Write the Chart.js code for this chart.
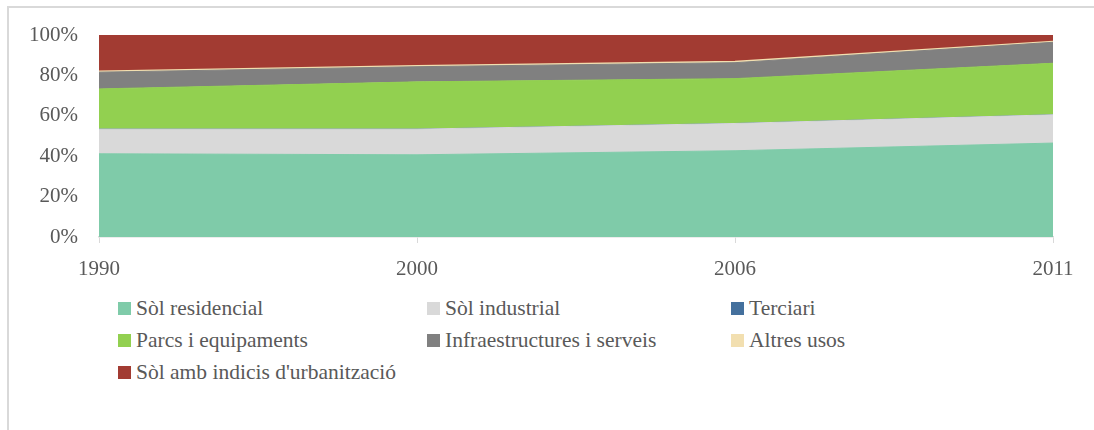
<!DOCTYPE html>
<html>
<head>
<meta charset="utf-8">
<script src="https://cdn.jsdelivr.net/npm/chart.js@4"></script>
<style>
  body { margin:0; background:#fff; font-family:'Liberation Serif', 'Times New Roman', Times, serif; }
  #frame { position:absolute; left:7px; top:6px; width:1100px; height:440px; border-left:2px solid #d9d9d9; border-top:2px solid #d9d9d9; }
  #wrap { position:absolute; left:0; top:0; width:1094px; height:290px; }
  #legend { position:absolute; left:118px; top:296px; width:900px; color:#595959; font-size:21.5px; }
  .lg-item { position:absolute; display:flex; align-items:center; white-space:nowrap; }
  .lg-box { width:13px; height:13px; margin-right:5px; }
</style>
</head>
<body>
<div id="frame"></div>
<div id="wrap"><canvas id="areaChart"></canvas></div>
<div id="legend"></div>
<script>
// ===== Data =====
const years = ['1990', '2000', '2006', '2011'];
const seriesNames = ['Sòl residencial', 'Sòl industrial', 'Terciari', 'Parcs i equipaments',
  'Infraestructures i serveis', 'Altres usos', "Sòl amb indicis d'urbanització"];
const residencial    = [41.2, 40.7, 42.7, 46.5];
const industrial     = [12.2, 12.7, 13.5, 14.0];
const terciari       = [0, 0, 0, 0];
const parcs          = [19.9, 23.4, 22.2, 25.5];
const infraestructures = [8.3, 7.5, 7.9, 10.4];
const altresUsos     = [0.3, 0.3, 0.4, 0.3];
const indicis        = [18.1, 15.4, 13.3, 3.3];
const colors = ['#7fcba9', '#d9d9d9', '#44709d', '#92d050', '#808080', '#f2dfb0', '#a23b32'];

const allValues = [residencial, industrial, terciari, parcs, infraestructures, altresUsos, indicis];

// ===== Chart =====
Chart.defaults.font.family = "'Liberation Serif', 'Times New Roman', Times, serif";
Chart.defaults.color = '#595959';

const datasets = allValues.map((vals, i) => ({
  label: seriesNames[i],
  data: vals,
  backgroundColor: colors[i],
  borderColor: colors[i],
  borderWidth: i === 5 ? 2 : 1,
  fill: i === 0 ? 'origin' : '-1',
  pointRadius: 0,
  tension: 0
}));

new Chart(document.getElementById('areaChart'), {
  type: 'line',
  data: { labels: years, datasets },
  options: {
    responsive: true, maintainAspectRatio: false, animation: false,
    plugins: { legend: { display: false }, tooltip: { enabled: false } },
    layout: { padding: { top: 35, right: 41, left: 0, bottom: 0 } },
    scales: {
      x: {
        offset: false,
        afterFit: s => { s.height = 53; },
        grid: { drawOnChartArea: false, drawTicks: true, tickLength: 6, color: '#d9d9d9' },
        border: { color: '#d9d9d9', width: 1.5 },
        ticks: { font: { size: 21 }, padding: 14, maxRotation: 0 }
      },
      y: {
        stacked: true, min: 0, max: 100,
        afterFit: s => { s.width = 99; },
        grid: { display: false },
        border: { display: false },
        ticks: { stepSize: 20, font: { size: 21 }, padding: 13, callback: v => v + '%' }
      }
    }
  }
});

// ===== Legend =====
const cols = [0, 309, 613];
document.getElementById('legend').innerHTML = seriesNames.map((name, i) => {
  const col = i % 3, row = Math.floor(i / 3);
  return `<div class="lg-item" style="left:${cols[col]}px;top:${row * 32}px;"><div class="lg-box" style="background:${colors[i]}"></div>${name}</div>`;
}).join('');
</script>
</body>
</html>
